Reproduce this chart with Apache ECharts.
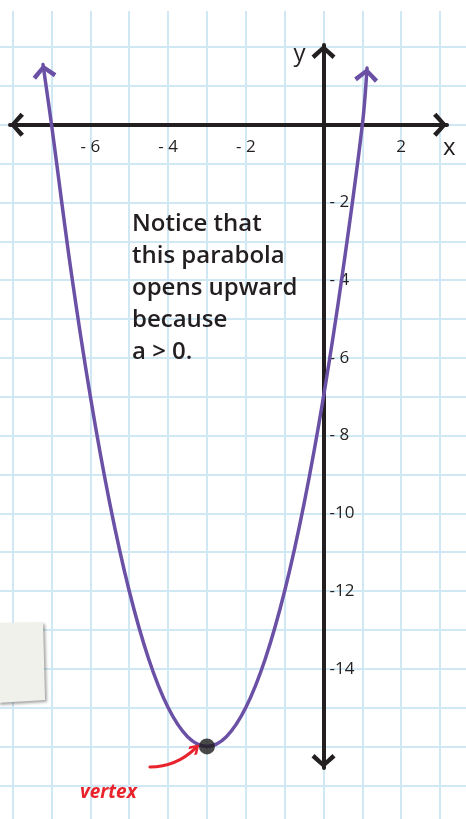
<!DOCTYPE html>
<html>
<head>
<meta charset="utf-8">
<script src="https://cdn.jsdelivr.net/npm/echarts@6/dist/echarts.min.js"></script>
<style>
  html, body { margin: 0; padding: 0; background: #ffffff; }
  #chart { width: 466px; height: 819px; }
</style>
</head>
<body>
<div id="chart"></div>
<script>
// Points along the parabola (half-unit steps), ending in the two arrow tips
const curveX = [-7.22, -7, -6.5, -6, -5.5, -5, -4.5, -4, -3.5, -3, -2.5, -2, -1.5, -1, -0.5, 0, 0.5, 1, 1.12];
const curveY = [1.55, 0, -3.75, -7, -9.75, -12, -13.75, -15, -15.75, -16, -15.75, -15, -13.75, -12, -9.75, -7, -3.75, 0, 1.46];

// Marked vertex and the pointer that labels it
const vertexPoint = [-3, -16];
const pointerFrom = [-4.47, -16.53];
const pointerTo = [-3.30, -16.05];

// Tick labels on each axis
const xTickValues = [-6, -4, -2, 2];
const xTickLabels = ['- 6', '- 4', '- 2', '2'];
const yTickValues = [-2, -4, -6, -8, -10, -12, -14];
const yTickLabels = ['- 2', '- 4', '- 6', '- 8', '-10', '-12', '-14'];

// Text blocks
const noteLines = ['Notice that', 'this parabola', 'opens upward', 'because', 'a > 0.'];
const pointerText = 'vertex';

// ---- layout ----
const W = 466, H = 819;
const UNIT = 38.85;            // pixels per unit on both axes
const ORIGIN_X = 323.5, ORIGIN_Y = 124.8;

const INK = '#231f20';
const PURPLE = '#6b51a6';
const RED = '#e8232b';
const PAPER_LINE = '#cfe8f4';
const FONT = '"Open Sans", "Noto Sans", sans-serif';

// chevron pointing up, 24 x 14 box
const CHEVRON = 'path://M0,10.5 L12,0 L24,10.5 L21,14 L12,5.5 L3,14 Z';

function gridFor(xr, yr) {
  return {
    outerBoundsMode: 'none',
    containLabel: false,
    left: ORIGIN_X + xr[0] * UNIT,
    right: W - (ORIGIN_X + xr[1] * UNIT),
    top: ORIGIN_Y - yr[1] * UNIT,
    bottom: H - (ORIGIN_Y - yr[0] * UNIT)
  };
}
const toX = px => (px - ORIGIN_X) / UNIT;
const toY = py => (ORIGIN_Y - py) / UNIT;

// graph paper: whole squares, one unit apart
const paperX = [-9, 4];
const paperY = [-18, 2.93];
// black axes: arrow tip to arrow tip
const axesX = [toX(10), toX(447)];
const axesY = [toY(768), toY(45)];

// distance from the paper grid's bottom / left edge to the lines x = 0 and y = 0
const paperBottomToZero = -paperY[0] * UNIT;
const paperLeftToZero = -paperX[0] * UNIT;

function pickLabel(values, labels) {
  return function (v) {
    const i = values.findIndex(t => Math.abs(t - v) < 1e-6);
    return i < 0 ? '' : labels[i];
  };
}

// arrowheads at both ends of the curve, turned along the last segment
function endArrow(i, j) {
  const dx = curveX[i] - curveX[j], dy = curveY[i] - curveY[j];
  const theta = Math.atan2(dy, dx);
  const half = 7;
  return {
    coord: [curveX[i], curveY[i]],
    symbolRotate: (theta - Math.PI / 2) * 180 / Math.PI,
    symbolOffset: [-half * Math.cos(theta), half * Math.sin(theta)]
  };
}

const curveData = curveX.map((x, i) => [x, curveY[i]]);
const n = curveX.length;

const axisArrowLine = {
  show: true, onZero: true,
  symbol: [CHEVRON, CHEVRON], symbolSize: [24, 14], symbolOffset: [7, -7],
  lineStyle: { color: INK, width: 4, cap: 'round' }
};

const chart = echarts.init(document.getElementById('chart'), null, { renderer: 'canvas' });

chart.setOption({
  animation: false,
  backgroundColor: '#ffffff',
  grid: [gridFor(paperX, paperY), gridFor(axesX, axesY)],
  xAxis: [
    {
      // graph paper columns + tick labels hung under y = 0
      gridIndex: 0, type: 'value', min: paperX[0], max: paperX[1], interval: 1,
      position: 'bottom', offset: -paperBottomToZero,
      axisLine: { show: false, onZero: false }, axisTick: { show: false },
      axisLabel: {
        show: true, customValues: xTickValues, margin: 14,
        color: INK, fontFamily: FONT, fontSize: 17,
        formatter: pickLabel(xTickValues, xTickLabels)
      },
      splitLine: { show: true, showMinLine: true, showMaxLine: true, lineStyle: { color: PAPER_LINE, width: 2 } }
    },
    {
      gridIndex: 1, type: 'value', min: axesX[0], max: axesX[1],
      axisLine: axisArrowLine,
      axisTick: { show: false }, splitLine: { show: false }, axisLabel: { show: false },
      name: 'x', nameLocation: 'end', nameGap: -4,
      nameTextStyle: { color: INK, fontFamily: FONT, fontSize: 24, verticalAlign: 'top', padding: [11, 0, 0, 0] }
    }
  ],
  yAxis: [
    {
      // graph paper rows + tick labels set right of x = 0
      gridIndex: 0, type: 'value', min: paperY[0], max: paperY[1], interval: 1,
      position: 'left', offset: -paperLeftToZero,
      axisLine: { show: false, onZero: false }, axisTick: { show: false },
      axisLabel: {
        show: true, inside: true, customValues: yTickValues, margin: 6,
        color: INK, fontFamily: FONT, fontSize: 17,
        formatter: pickLabel(yTickValues, yTickLabels)
      },
      splitLine: { show: true, showMinLine: true, showMaxLine: false, lineStyle: { color: PAPER_LINE, width: 2 } }
    },
    {
      gridIndex: 1, type: 'value', min: axesY[0], max: axesY[1],
      axisLine: axisArrowLine,
      axisTick: { show: false }, splitLine: { show: false }, axisLabel: { show: false },
      name: 'y', nameLocation: 'end', nameGap: -2,
      nameTextStyle: { color: INK, fontFamily: FONT, fontSize: 24, align: 'right', verticalAlign: 'top', padding: [-5, 18, 0, 0] }
    }
  ],
  series: [
    {
      name: 'parabola', type: 'line', xAxisIndex: 0, yAxisIndex: 0,
      data: curveData, smooth: 0.35, showSymbol: false, z: 3,
      lineStyle: { color: PURPLE, width: 3.5, cap: 'round' },
      markPoint: {
        symbol: CHEVRON, symbolSize: [24, 14], silent: true,
        itemStyle: { color: PURPLE }, label: { show: false },
        data: [endArrow(0, 1), endArrow(n - 1, n - 2)]
      }
    },
    {
      name: 'pointer', type: 'lines', coordinateSystem: 'cartesian2d', xAxisIndex: 0, yAxisIndex: 0,
      z: 4, silent: true,
      symbol: ['none', CHEVRON], symbolSize: [18, 11],
      lineStyle: { color: RED, width: 3, curveness: -0.2, opacity: 1, cap: 'round' },
      data: [{ coords: [pointerFrom, pointerTo] }]
    },
    {
      name: 'vertex', type: 'scatter', xAxisIndex: 0, yAxisIndex: 0,
      data: [vertexPoint], symbolSize: 16, z: 5,
      itemStyle: { color: '#1d1b1b' }
    }
  ],
  graphic: [
    {
      type: 'text', left: 132, top: 208, z: 10,
      style: { text: noteLines.join('\n'), fill: INK, font: '600 24px ' + FONT, lineHeight: 32 }
    },
    {
      type: 'text', left: 80, top: 783, z: 10,
      style: { text: pointerText, fill: RED, font: 'italic bold 19px ' + FONT }
    },
    {
      // sticky note at the lower left edge
      type: 'polygon', z: 20, silent: true,
      shape: { points: [[-2, 623], [43, 622], [45, 700], [-2, 703]] },
      style: { fill: '#f1f1ec', shadowBlur: 3, shadowColor: 'rgba(0,0,0,0.35)', shadowOffsetX: 2, shadowOffsetY: 2 }
    }
  ]
});
</script>
</body>
</html>
